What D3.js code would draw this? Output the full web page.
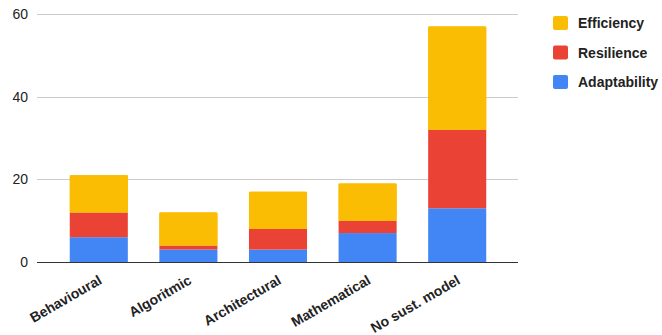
<!DOCTYPE html>
<html>
<head>
<meta charset="utf-8">
<script src="https://cdn.jsdelivr.net/npm/d3@7"></script>
<style>
  html, body { margin: 0; padding: 0; background: #fff; }
  svg { display: block; font-family: "Liberation Sans", Arial, sans-serif; }
</style>
</head>
<body>
<svg id="chart" width="662" height="335"></svg>
<script>
// Sustainability model categories and stacked series values
const categories = ["Behavioural", "Algoritmic", "Architectural", "Mathematical", "No sust. model"];
const seriesNames = ["Adaptability", "Resilience", "Efficiency"];
const adaptability = [6, 3, 3, 7, 13];
const resilience = [6, 1, 5, 3, 19];
const efficiency = [9, 8, 9, 9, 25];
const yTicks = [0, 20, 40, 60];
const colors = { Adaptability: "#4285F4", Resilience: "#EA4335", Efficiency: "#FBBC04" };

const rows = categories.map((c, i) => ({
  category: c,
  Adaptability: adaptability[i],
  Resilience: resilience[i],
  Efficiency: efficiency[i]
}));

const svg = d3.select("#chart");
const plot = { left: 37, right: 518, top: 14, bottom: 262 };

const x = d3.scaleBand()
  .domain(categories)
  .range([54, 502])
  .paddingInner(0.352)
  .paddingOuter(0.176);

const y = d3.scaleLinear()
  .domain([0, 60])
  .range([plot.bottom, plot.top]);

// Gridlines
svg.append("g")
  .selectAll("line")
  .data(yTicks.filter(d => d !== 0))
  .join("line")
  .attr("x1", plot.left)
  .attr("x2", plot.right)
  .attr("y1", d => Math.round(y(d)) + 0.5)
  .attr("y2", d => Math.round(y(d)) + 0.5)
  .attr("stroke", "#cccccc")
  .attr("stroke-width", 1);

// Y axis labels
const yAxis = d3.axisLeft(y).tickValues(yTicks).tickSize(0).tickPadding(0);
const yg = svg.append("g")
  .attr("transform", `translate(${plot.left - 9},0)`)
  .call(yAxis);
yg.select(".domain").remove();
yg.selectAll("text")
  .attr("font-size", 14)
  .attr("fill", "#222")
  .attr("font-family", "'Liberation Sans', Arial, sans-serif");

// Stacked bars
const stack = d3.stack().keys(seriesNames);
const stacked = stack(rows);

svg.append("g")
  .selectAll("g")
  .data(stacked)
  .join("g")
  .attr("fill", d => colors[d.key])
  .selectAll("rect")
  .data(d => d.map(v => ({ v, key: d.key })))
  .join("rect")
  .attr("x", d => x(d.v.data.category))
  .attr("width", x.bandwidth())
  .attr("y", d => y(d.v[1]))
  .attr("height", d => y(d.v[0]) - y(d.v[1]));

// Rounded cap on the topmost segment
svg.append("g")
  .selectAll("path")
  .data(stacked[stacked.length - 1])
  .join("path")
  .attr("fill", colors.Efficiency)
  .attr("d", d => {
    const x0 = x(d.data.category), w = x.bandwidth();
    const yt = y(d[1]), yb = y(d[0]), r = 2;
    return `M${x0},${yb}V${yt + r}Q${x0},${yt} ${x0 + r},${yt}H${x0 + w - r}Q${x0 + w},${yt} ${x0 + w},${yt + r}V${yb}Z`;
  });

// Baseline
svg.append("line")
  .attr("x1", plot.left)
  .attr("x2", plot.right)
  .attr("y1", y(0) + 0.5)
  .attr("y2", y(0) + 0.5)
  .attr("stroke", "#333")
  .attr("stroke-width", 1.2);

// X axis labels, rotated
const xAxis = d3.axisBottom(x).tickSize(0).tickPadding(0);
const xg = svg.append("g")
  .attr("transform", `translate(0,${plot.bottom})`)
  .call(xAxis);
xg.select(".domain").remove();
xg.selectAll(".tick text")
  .attr("font-size", 14)
  .attr("font-weight", "bold")
  .attr("fill", "#222")
  .attr("font-family", "'Liberation Sans', Arial, sans-serif")
  .attr("text-anchor", "end")
  .attr("dy", null)
  .attr("y", 0)
  .attr("transform", "translate(4,21) rotate(-30)");

// Legend
const legendOrder = ["Efficiency", "Resilience", "Adaptability"];
const legend = svg.append("g").attr("transform", "translate(553,16)");
const item = legend.selectAll("g")
  .data(legendOrder)
  .join("g")
  .attr("transform", (d, i) => `translate(0,${i * 29.5})`);
item.append("rect")
  .attr("width", 15)
  .attr("height", 14)
  .attr("rx", 2)
  .attr("fill", d => colors[d]);
item.append("text")
  .attr("x", 25)
  .attr("y", 7)
  .attr("dy", "0.36em")
  .attr("font-size", 14)
  .attr("font-weight", "bold")
  .attr("fill", "#222")
  .text(d => d);
</script>
</body>
</html>
